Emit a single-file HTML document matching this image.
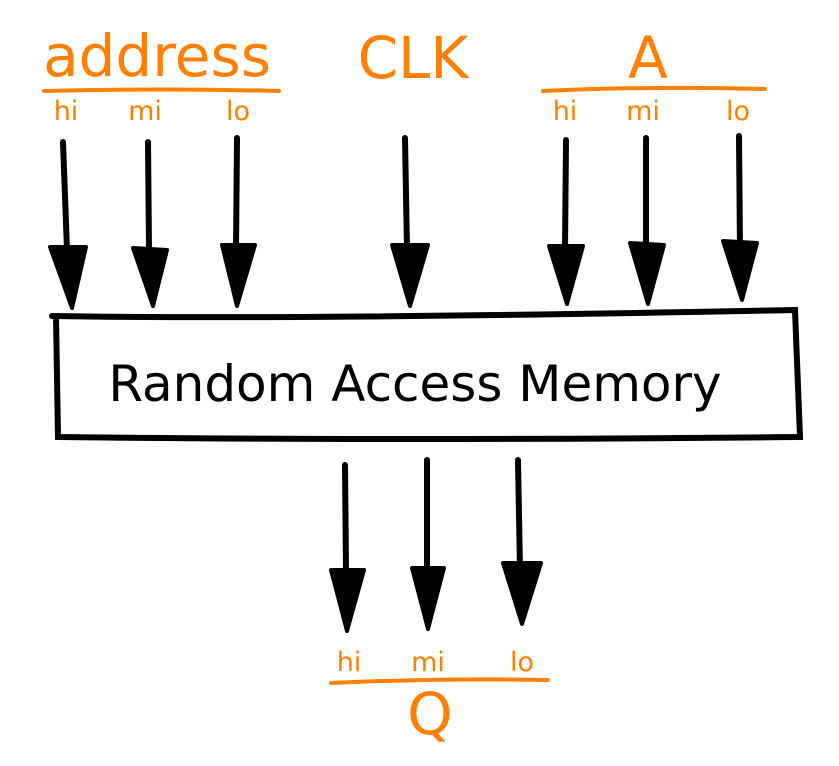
<!DOCTYPE html>
<html><head><style>html,body{margin:0;padding:0;background:#fff;}svg{display:block}</style></head><body>
<svg width="839" height="766" viewBox="0 0 839 766" xmlns="http://www.w3.org/2000/svg">
<g font-family="DejaVu Sans, Liberation Sans, sans-serif" fill="#ff8000">
<text x="157" y="76" font-size="58" text-anchor="middle">address</text>
<text x="413" y="78" font-size="58" text-anchor="middle">CLK</text>
<text x="648" y="78" font-size="58" text-anchor="middle">A</text>
<text x="430" y="734" font-size="58" text-anchor="middle">Q</text>
<g font-size="27" text-anchor="middle">
<text x="66" y="120">hi</text><text x="145" y="120">mi</text><text x="238" y="120">lo</text>
<text x="565" y="120">hi</text><text x="643" y="120">mi</text><text x="738" y="120">lo</text>
<text x="349" y="671">hi</text><text x="428" y="671">mi</text><text x="522" y="671">lo</text>
</g>
</g>
<g stroke="#ff8000" stroke-width="4" stroke-linecap="round" fill="none">
<path d="M44 91 Q160 88 279 91"/>
<path d="M543 91 Q650 86 765 89"/>
<path d="M331 683 Q440 678 548 680"/>
</g>
<g stroke="#000" stroke-width="6" stroke-linecap="round" fill="none">
<path d="M63 142 L67 250"/><path d="M148 142 L149 250"/><path d="M237 138 L236 250"/>
<path d="M405 138 L407 250"/><path d="M566 140 L565 250"/><path d="M646 138 L646 250"/><path d="M739 136 L740 250"/>
<path d="M345 465 L346 570"/><path d="M427 460 L427 570"/><path d="M518 460 L520 570"/>
<path d="M52 316 Q300 320 795 310 L800 437 Q400 441 58 437 L56 316" stroke-width="6"/>
</g>
<g fill="#000" stroke="#000" stroke-width="4" stroke-linejoin="round">
<polygon points="50,247 86,247 72,308"/><polygon points="133,248 167,250 153,306"/><polygon points="222,245 255,245 237,306"/>
<polygon points="392,245 428,245 410,306"/><polygon points="549,246 583,246 567,304"/><polygon points="630,243 664,245 648,304"/><polygon points="723,241 757,243 742,300"/>
<polygon points="331,570 364,570 347,631"/><polygon points="412,568 444,568 428,629"/><polygon points="503,563 541,563 522,624"/>
</g>
<text x="415" y="401" font-family="DejaVu Sans, Liberation Sans, sans-serif" font-size="50" text-anchor="middle" fill="#000">Random Access Memory</text>
</svg>
</body></html>
